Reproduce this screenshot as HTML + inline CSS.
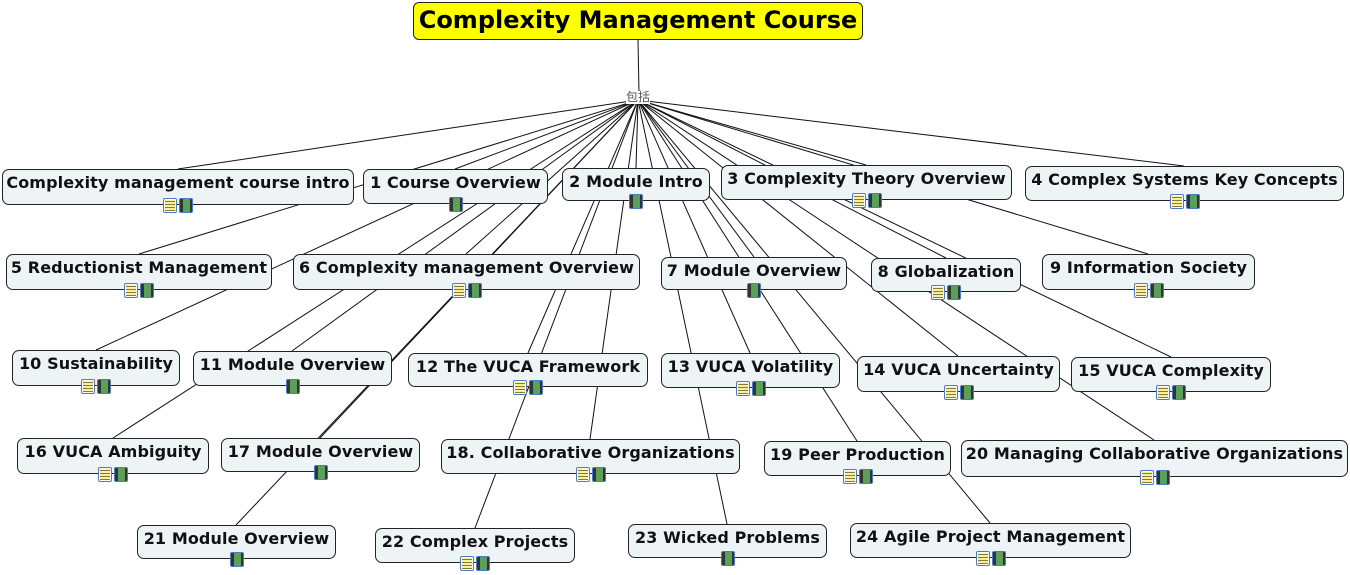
<!DOCTYPE html>
<html><head><meta charset="utf-8"><style>
body{margin:0;width:1350px;height:575px;background:#fff;position:relative;overflow:hidden;font-family:"DejaVu Sans","Liberation Sans",sans-serif}
svg{position:absolute;left:0;top:0}
.n{position:absolute;box-sizing:border-box;background:#eef4f6;border:1px solid #222;border-radius:7px;font-weight:bold;font-size:16px;color:#111;text-align:center;padding-top:3px;white-space:nowrap;letter-spacing:0.1px}
.ic{position:absolute;left:0;right:0;bottom:-9px;text-align:center;line-height:0;font-size:0}
.d,.f{display:inline-block;width:14px;height:15px;box-sizing:border-box;border:1px solid #4a7bc8;border-radius:2px;margin:0 1px;vertical-align:top}
.d{background:repeating-linear-gradient(#f8f0a0 0 2px,#8a7a30 2px 3px);box-shadow:inset 0 0 0 1px #fff}
.f{background:linear-gradient(90deg,#333 0 3px,#5aa05a 3px 10px,#333 10px)}
#t{position:absolute;left:413px;top:2px;width:450px;height:38px;box-sizing:border-box;background:#ffff00;border:1px solid #222;border-radius:6px;font-weight:bold;font-size:24px;text-align:center;line-height:35px}
#h{position:absolute;left:626px;top:91px;font-size:12px;color:#555;background:#fff;font-family:"Liberation Sans","Noto Sans CJK SC",sans-serif;line-height:13px}
</style></head><body>
<svg width="1350" height="575" stroke="#111" stroke-width="1">
<line x1="638" y1="40" x2="639" y2="93"/>
<g>
<line x1="638" y1="100" x2="178" y2="169"/>
<line x1="638" y1="100" x2="455" y2="169"/>
<line x1="638" y1="100" x2="636" y2="168"/>
<line x1="638" y1="100" x2="866" y2="165"/>
<line x1="638" y1="100" x2="1184" y2="166"/>
<line x1="638" y1="100" x2="139" y2="254"/>
<line x1="638" y1="100" x2="466" y2="254"/>
<line x1="638" y1="100" x2="754" y2="257"/>
<line x1="638" y1="100" x2="946" y2="258"/>
<line x1="638" y1="100" x2="1148" y2="254"/>
<line x1="638" y1="100" x2="96" y2="350"/>
<line x1="638" y1="100" x2="292" y2="351"/>
<line x1="638" y1="100" x2="528" y2="353"/>
<line x1="638" y1="100" x2="750" y2="353"/>
<line x1="638" y1="100" x2="958" y2="356"/>
<line x1="638" y1="100" x2="1171" y2="357"/>
<line x1="638" y1="100" x2="113" y2="438"/>
<line x1="638" y1="100" x2="320" y2="438"/>
<line x1="638" y1="100" x2="590" y2="439"/>
<line x1="638" y1="100" x2="857" y2="441"/>
<line x1="638" y1="100" x2="1154" y2="440"/>
<line x1="638" y1="100" x2="236" y2="525"/>
<line x1="638" y1="100" x2="475" y2="528"/>
<line x1="638" y1="100" x2="727" y2="524"/>
<line x1="638" y1="100" x2="990" y2="523"/>
</g>
</svg>
<div id="t">Complexity Management Course</div>
<div id="h">包括</div>

<div class="n" style="left:2px;top:169px;width:352px;height:36px">Complexity management course intro<div class="ic"><span class="d"></span><span class="f"></span></div></div>
<div class="n" style="left:363px;top:169px;width:185px;height:35px">1 Course Overview<div class="ic"><span class="f"></span></div></div>
<div class="n" style="left:562px;top:168px;width:148px;height:33px">2 Module Intro<div class="ic"><span class="f"></span></div></div>
<div class="n" style="left:721px;top:165px;width:291px;height:35px">3 Complexity Theory Overview<div class="ic"><span class="d"></span><span class="f"></span></div></div>
<div class="n" style="left:1025px;top:166px;width:319px;height:35px">4 Complex Systems Key Concepts<div class="ic"><span class="d"></span><span class="f"></span></div></div>
<div class="n" style="left:6px;top:254px;width:266px;height:36px">5 Reductionist Management<div class="ic"><span class="d"></span><span class="f"></span></div></div>
<div class="n" style="left:293px;top:254px;width:347px;height:36px">6 Complexity management Overview<div class="ic"><span class="d"></span><span class="f"></span></div></div>
<div class="n" style="left:661px;top:257px;width:186px;height:33px">7 Module Overview<div class="ic"><span class="f"></span></div></div>
<div class="n" style="left:871px;top:258px;width:150px;height:34px">8 Globalization<div class="ic"><span class="d"></span><span class="f"></span></div></div>
<div class="n" style="left:1042px;top:254px;width:213px;height:36px">9 Information Society<div class="ic"><span class="d"></span><span class="f"></span></div></div>
<div class="n" style="left:12px;top:350px;width:168px;height:36px">10 Sustainability<div class="ic"><span class="d"></span><span class="f"></span></div></div>
<div class="n" style="left:193px;top:351px;width:199px;height:35px">11 Module Overview<div class="ic"><span class="f"></span></div></div>
<div class="n" style="left:408px;top:353px;width:240px;height:34px">12 The VUCA Framework<div class="ic"><span class="d"></span><span class="f"></span></div></div>
<div class="n" style="left:661px;top:353px;width:179px;height:35px">13 VUCA Volatility<div class="ic"><span class="d"></span><span class="f"></span></div></div>
<div class="n" style="left:857px;top:356px;width:203px;height:36px">14 VUCA Uncertainty<div class="ic"><span class="d"></span><span class="f"></span></div></div>
<div class="n" style="left:1071px;top:357px;width:200px;height:35px">15 VUCA Complexity<div class="ic"><span class="d"></span><span class="f"></span></div></div>
<div class="n" style="left:17px;top:438px;width:192px;height:36px">16 VUCA Ambiguity<div class="ic"><span class="d"></span><span class="f"></span></div></div>
<div class="n" style="left:221px;top:438px;width:199px;height:34px">17 Module Overview<div class="ic"><span class="f"></span></div></div>
<div class="n" style="left:441px;top:439px;width:299px;height:35px">18. Collaborative Organizations<div class="ic"><span class="d"></span><span class="f"></span></div></div>
<div class="n" style="left:764px;top:441px;width:187px;height:35px">19 Peer Production<div class="ic"><span class="d"></span><span class="f"></span></div></div>
<div class="n" style="left:961px;top:440px;width:387px;height:37px">20 Managing Collaborative Organizations<div class="ic"><span class="d"></span><span class="f"></span></div></div>
<div class="n" style="left:137px;top:525px;width:199px;height:34px">21 Module Overview<div class="ic"><span class="f"></span></div></div>
<div class="n" style="left:375px;top:528px;width:200px;height:35px">22 Complex Projects<div class="ic"><span class="d"></span><span class="f"></span></div></div>
<div class="n" style="left:628px;top:524px;width:199px;height:34px">23 Wicked Problems<div class="ic"><span class="f"></span></div></div>
<div class="n" style="left:850px;top:523px;width:281px;height:35px">24 Agile Project Management<div class="ic"><span class="d"></span><span class="f"></span></div></div>
</body></html>
